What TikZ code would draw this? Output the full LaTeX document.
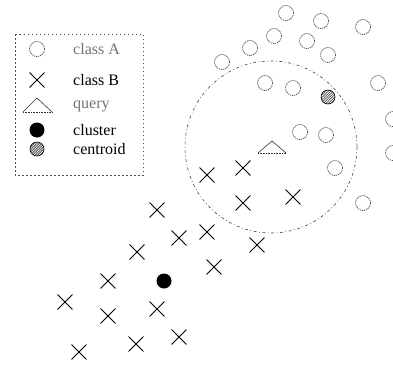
\documentclass[tikz,border=0pt]{standalone}
\usepackage{fontspec}
\setmainfont{Liberation Serif}
\usetikzlibrary{shapes.misc}
\tikzset{
  classA/.style={circle,draw=black!80,dash pattern=on 1.2pt off 0.8pt,line width=0.6pt,minimum size=15,inner sep=0pt},
  classB/.style={cross out,draw=black,line width=0.9pt,minimum size=14,inner sep=0pt},
  clusterdot/.style={circle,fill=black,minimum size=15,inner sep=0pt},
  centroiddot/.style={circle,draw=black,fill=black!65,line width=0.6pt,minimum size=14,inner sep=0pt},
  querytri/.style={draw=black!80,line width=0.6pt},
  label/.style={anchor=west,font=\fontsize{16}{19}\selectfont,inner sep=0pt},
  paletext/.style={text=black!55},
  legendbox/.style={draw=black!70,line width=0.6pt,dash pattern=on 1.5pt off 2.5pt},
  nbhd/.style={draw=black!75,line width=0.6pt,dash pattern=on 3pt off 2.5pt on 0.8pt off 2.5pt}
}
% hatching inside a centroid marker
\newcommand{\hatchdot}[1]{%
  \begin{scope}
    \clip (#1.center) circle[radius=6.5];
    \foreach \d in {-12,-9.5,...,12}
      \draw[white,line width=0.7pt] ([shift={(\d-8,8)}]#1.center) -- ([shift={(\d+8,-8)}]#1.center);
  \end{scope}}
\begin{document}
\begin{tikzpicture}[x=1pt,y=-1pt]
\useasboundingbox (0,0) rectangle (393,364);

% neighbourhood of the query
\coordinate (q) at (271,147);
\draw[nbhd] (q) circle[radius=86];

% class A samples
\foreach \x/\y [count=\i] in {286/13,321/21,363/27,274/36,307/41,250/48,328/55,222/62,
  265/83,293/88,378/83,300/132,326/135,335/168,363/203,393/119,393/153}
  \node[classA] (a\i) at (\x,\y) {};

% class B samples
\foreach \x/\y [count=\i] in {207/175,243/168,243/203,293/197,207/232,257/245,157/210,
  179/238,137/252,214/267,108/281,65/302,108/316,157/309,136/344,179/337,79/352}
  \node[classB] (b\i) at (\x,\y) {};

% cluster and centroid
\node[clusterdot] (cluster) at (164,281) {};
\node[centroiddot] (centroid) at (328,97) {};
\hatchdot{centroid}

% query point
\draw[querytri] (258,153) -- (272,141) -- (286,153);
\draw[querytri,densely dotted] (258,153) -- (286,153);

% legend
\draw[legendbox] (15,34) rectangle (143,175);
\node[classA] (lA) at (37,49) {};
\node[label,paletext] (tA) at (73,49) {class A};
\node[classB] (lB) at (37,80) {};
\node[label] (tB) at (73,80) {class B};
\draw[querytri] (23,112) -- (37,98) -- (52,112);
\draw[querytri,densely dotted] (23,112) -- (52,112);
\node[label,paletext] (tQ) at (73,106) {query};
\node[clusterdot] (lC) at (37,130) {};
\node[label] (tC) at (73,130) {cluster};
\node[centroiddot] (lD) at (37,149) {};
\hatchdot{lD}
\node[label] (tD) at (73,149) {centroid};
\end{tikzpicture}
\end{document}
